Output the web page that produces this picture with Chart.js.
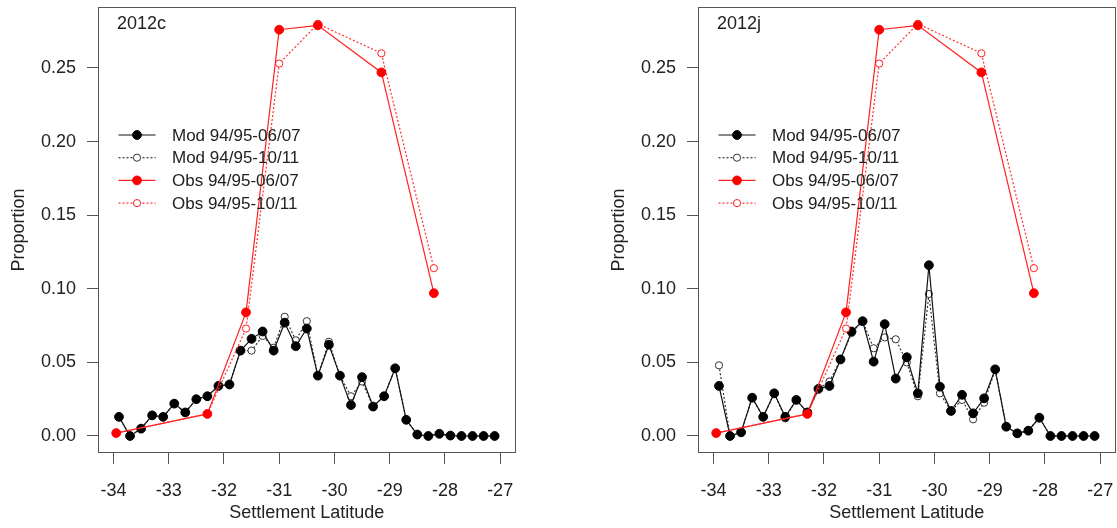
<!DOCTYPE html>
<html><head><meta charset="utf-8">
<script src="https://cdn.jsdelivr.net/npm/chart.js@4.4.1/dist/chart.umd.min.js"></script>
<style>
html,body{margin:0;padding:0;background:#fff;overflow:hidden;width:1117px;height:528px;position:relative}
canvas{position:absolute;top:0}
#c1{left:0}
#c2{left:600px}
</style></head><body>
<canvas id="c1" width="521" height="528"></canvas>
<canvas id="c2" width="521" height="528"></canvas>
<script>
// ---- data ----
const modLat = [-33.9,-33.7,-33.5,-33.3,-33.1,-32.9,-32.7,-32.5,-32.3,-32.1,-31.9,-31.7,-31.5,-31.3,-31.1,-30.9,-30.7,-30.5,-30.3,-30.1,-29.9,-29.7,-29.5,-29.3,-29.1,-28.9,-28.7,-28.5,-28.3,-28.1,-27.9,-27.7,-27.5,-27.3,-27.1];
const obsLat = [-33.95,-32.3,-31.6,-31.0,-30.3,-29.15,-28.2];

const mod0607_2012c = [0.013,0.000,0.005,0.014,0.013,0.022,0.016,0.025,0.027,0.034,0.035,0.058,0.066,0.071,0.058,0.077,0.061,0.073,0.041,0.062,0.041,0.021,0.040,0.020,0.027,0.046,0.011,0.001,0.000,0.0015,0.0003,0.000,0.000,0.000,0.000];
const mod1011_2012c = [0.013,0.000,0.005,0.014,0.013,0.022,0.016,0.025,0.027,0.034,0.035,0.058,0.058,0.068,0.060,0.081,0.065,0.078,0.041,0.064,0.041,0.027,0.037,0.020,0.027,0.046,0.011,0.001,0.000,0.0015,0.0003,0.000,0.000,0.000,0.000];

const mod0607_2012j = [0.034,0.000,0.0025,0.026,0.013,0.029,0.013,0.0245,0.016,0.032,0.034,0.052,0.071,0.078,0.0505,0.076,0.039,0.0535,0.029,0.116,0.0335,0.017,0.028,0.0154,0.0256,0.0453,0.0063,0.0018,0.0036,0.0124,0.000,0.000,0.000,0.000,0.000];
const mod1011_2012j = [0.048,0.000,0.0025,0.026,0.013,0.029,0.012,0.0245,0.016,0.032,0.037,0.052,0.070,0.078,0.0596,0.067,0.0657,0.050,0.027,0.0965,0.029,0.017,0.0245,0.0113,0.0226,0.045,0.0063,0.0018,0.0036,0.0124,0.000,0.000,0.000,0.000,0.000];

const obs0607 = [0.002,0.015,0.084,0.276,0.279,0.247,0.097];
const obs1011 = [0.002,0.015,0.073,0.253,0.280,0.260,0.114];

const seriesNames = ['Mod 94/95-06/07','Mod 94/95-10/11','Obs 94/95-06/07','Obs 94/95-10/11'];
const panelTitles = ['2012c','2012j'];

const xTicks = [-34,-33,-32,-31,-30,-29,-28,-27];
const xTickLabels = ['-34','-33','-32','-31','-30','-29','-28','-27'];
const yTicks = [0,0.05,0.10,0.15,0.20,0.25];
const yTickLabels = ['0.00','0.05','0.10','0.15','0.20','0.25'];

// ---- rendering ----
const FONT = '"Liberation Sans", Arial, Helvetica, sans-serif';
const TXT = '#222';
const AX = '#555';

function pts(xs, ys){ return xs.map((x,i)=>({x:x, y:ys[i]})); }

const decor = {
  id:'decor',
  afterDatasetsDraw(chart, args, opts){
    const ctx = chart.ctx, a = chart.chartArea;
    ctx.save();
    ctx.strokeStyle = AX; ctx.lineWidth = 1;
    ctx.strokeRect(Math.round(a.left)+0.5, Math.round(a.top)+0.5, Math.round(a.right-a.left)-1, Math.round(a.bottom-a.top)-1);
    ctx.fillStyle = TXT;
    ctx.textBaseline = 'middle'; ctx.textAlign = 'left';
    ctx.font = '18px ' + FONT;
    ctx.fillText(opts.title, a.left+19, a.top+17);
    ctx.font = '17px ' + FONT;
    chart.data.datasets.forEach((ds,i)=>{
      const y = a.top + 128 + i*22.7;
      const x0 = a.left+20.5, x1 = a.left+57.5, xm = (x0+x1)/2;
      ctx.strokeStyle = ds.borderColor; ctx.lineWidth = ds.borderWidth;
      ctx.setLineDash(ds.borderDash || []);
      ctx.beginPath(); ctx.moveTo(x0,y); ctx.lineTo(x1,y); ctx.stroke();
      ctx.setLineDash([]);
      ctx.beginPath(); ctx.arc(xm, y, ds.pointRadius, 0, Math.PI*2);
      ctx.fillStyle = ds.pointBackgroundColor; ctx.fill();
      ctx.lineWidth = ds.pointBorderWidth; ctx.strokeStyle = ds.pointBorderColor; ctx.stroke();
      ctx.fillStyle = TXT;
      ctx.fillText(ds.label, a.left+74, y+1);
    });
    ctx.restore();
  }
};

function makeChart(id, title, m0607, m1011){
  const datasets = [
    {label:seriesNames[0], data:pts(modLat,m0607), borderColor:'#111', borderWidth:1.2,
     pointRadius:4.4, pointBackgroundColor:'#000', pointBorderColor:'#000', pointBorderWidth:1, order:3},
    {label:seriesNames[1], data:pts(modLat,m1011), borderColor:'#333', borderWidth:1.2, borderDash:[2,2],
     pointRadius:3.6, pointBackgroundColor:'#fff', pointBorderColor:'#333', pointBorderWidth:1, order:4},
    {label:seriesNames[2], data:pts(obsLat,obs0607), borderColor:'#ff2020', borderWidth:1.2,
     pointRadius:4.4, pointBackgroundColor:'#ff0000', pointBorderColor:'#ff0000', pointBorderWidth:1, order:1},
    {label:seriesNames[3], data:pts(obsLat,obs1011), borderColor:'#ff3030', borderWidth:1.2, borderDash:[2,2],
     pointRadius:3.6, pointBackgroundColor:'#fff', pointBorderColor:'#ff2020', pointBorderWidth:1, order:2}
  ];
  datasets.forEach(d=>{ d.fill=false; d.tension=0; d.pointHoverRadius=d.pointRadius; });
  return new Chart(document.getElementById(id), {
    type:'line',
    data:{datasets},
    plugins:[decor],
    options:{
      responsive:false, animation:false, devicePixelRatio:1,
      layout:{padding:{top:7,right:2,left:0,bottom:0}},
      plugins:{legend:{display:false}, tooltip:{enabled:false}, decor:{title:title}},
      scales:{
        x:{type:'linear', min:-34.28, max:-26.72,
           afterBuildTicks:s=>{ s.ticks = xTicks.map(v=>({value:v})); },
           afterFit:s=>{ s.height = 75; s.paddingLeft = 0; s.paddingRight = 0; s.paddingTop = 0; s.paddingBottom = 0; },
           grid:{drawOnChartArea:false, drawTicks:true, tickLength:11, color:AX, lineWidth:1},
           border:{display:false},
           ticks:{callback:(v,i)=>xTickLabels[i], color:TXT, font:{family:FONT,size:18}, padding:16, maxRotation:0, autoSkip:false},
           title:{display:true, text:'Settlement Latitude', color:TXT, font:{family:FONT,size:18}, padding:{top:4,bottom:4}}
        },
        y:{type:'linear', min:-0.01155, max:0.29144,
           afterBuildTicks:s=>{ s.ticks = yTicks.map(v=>({value:v})); },
           afterFit:s=>{ s.width = 98; s.paddingTop = 0; s.paddingBottom = 0; s.paddingLeft = 0; s.paddingRight = 0; },
           grid:{drawOnChartArea:false, drawTicks:true, tickLength:11, color:AX, lineWidth:1},
           border:{display:false},
           ticks:{callback:(v,i)=>yTickLabels[i], color:TXT, font:{family:FONT,size:18}, padding:11, autoSkip:false},
           title:{display:true, text:'Proportion', color:TXT, font:{family:FONT,size:18}, padding:{top:8,bottom:8}}
        }
      }
    }
  });
}

makeChart('c1', panelTitles[0], mod0607_2012c, mod1011_2012c);
makeChart('c2', panelTitles[1], mod0607_2012j, mod1011_2012j);
</script>
</body></html>
